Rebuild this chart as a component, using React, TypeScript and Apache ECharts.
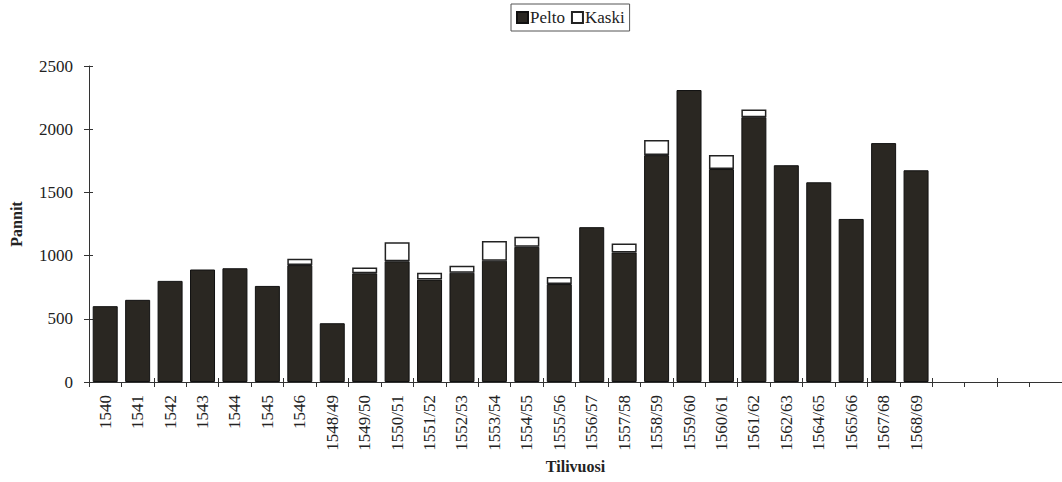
import React, { useEffect, useRef } from "react";
import * as echarts from "echarts";

const categories = [
  "1540", "1541", "1542", "1543", "1544", "1545", "1546", "1548/49", "1549/50", "1550/51",
  "1551/52", "1552/53", "1553/54", "1554/55", "1555/56", "1556/57", "1557/58", "1558/59", "1559/60", "1560/61",
  "1561/62", "1562/63", "1564/65", "1565/66", "1567/68", "1568/69", "", "", "", "",
];
const pelto = [600, 650, 800, 890, 900, 760, 925, 465, 860, 955, 810, 865, 960, 1070, 775, 1225, 1025, 1795, 2310, 1685, 2095, 1715, 1580, 1290, 1890, 1675];
const kaski = [0, 0, 0, 0, 0, 0, 50, 0, 45, 150, 55, 55, 155, 80, 55, 0, 70, 120, 0, 110, 60, 0, 0, 0, 0, 0];
const yTicks = { min: 0, max: 2500, interval: 500 };

const FONT = "'Liberation Serif', 'Times New Roman', serif";

export default function App() {
  const ref = useRef<HTMLDivElement>(null);
  useEffect(() => {
    if (!ref.current) return;
    const chart = echarts.init(ref.current, null, { renderer: "svg" });
    const axisLine = { show: true, lineStyle: { color: "#333", width: 1 } };
    chart.setOption({
      animation: false,
      backgroundColor: "#fff",
      textStyle: { fontFamily: FONT, color: "#222" },
      legend: {
        top: 4,
        left: 511,
        data: ["Pelto", "Kaski"],
        icon: "rect",
        itemWidth: 11,
        itemHeight: 11,
        itemGap: 6,
        padding: [5, 5, 5, 5],
        borderColor: "#555",
        borderWidth: 1,
        textStyle: { fontFamily: FONT, fontSize: 17, color: "#222", padding: [0, 0, 0, -3] },
      },
      grid: { left: 85, top: 66, bottom: 100, width: 983 },
      xAxis: [
        {
          type: "category",
          data: categories,
          boundaryGap: true,
          axisLine,
          axisTick: { show: true, inside: false, length: 5, lineStyle: { color: "#333" } },
          axisLabel: { rotate: 90, fontSize: 17, color: "#222", margin: 13, fontFamily: FONT, interval: 0 },
          name: "Tilivuosi",
          nameLocation: "middle",
          nameGap: 53,
          nameTextStyle: { fontFamily: FONT, fontSize: 16, fontWeight: "bold", color: "#222" },
          splitLine: { show: false },
        },
        {
          type: "category",
          data: categories,
          position: "bottom",
          boundaryGap: true,
          axisLine: { show: false },
          axisTick: { show: true, inside: true, length: 4, lineStyle: { color: "#333" } },
          axisLabel: { show: false },
          splitLine: { show: false },
        },
      ],
      yAxis: [
        {
          type: "value",
          min: yTicks.min,
          max: yTicks.max,
          interval: yTicks.interval,
          axisLine,
          axisTick: { show: true, inside: false, length: 5, lineStyle: { color: "#333" } },
          axisLabel: { fontSize: 17, color: "#222", margin: 16, fontFamily: FONT, formatter: (v: number) => String(v) },
          splitLine: { show: false },
          name: "Pannit",
          nameLocation: "middle",
          nameGap: 65,
          nameRotate: 90,
          nameTextStyle: { fontFamily: FONT, fontSize: 16, fontWeight: "bold", color: "#222" },
        },
        {
          type: "value",
          min: yTicks.min,
          max: yTicks.max,
          interval: yTicks.interval,
          position: "left",
          axisLine: { show: false },
          axisTick: { show: true, inside: true, length: 4, lineStyle: { color: "#333" } },
          axisLabel: { show: false },
          splitLine: { show: false },
        },
      ],
      series: [
        {
          name: "Pelto",
          type: "bar",
          stack: "t",
          barWidth: 25,
          data: pelto,
          itemStyle: { color: "#2a2722", borderColor: "#111", borderWidth: 1 },
        },
        {
          name: "Kaski",
          type: "bar",
          stack: "t",
          barWidth: 25,
          data: kaski.map((v) => (v > 0 ? v : null)),
          itemStyle: { color: "#fff", borderColor: "#222", borderWidth: 1.5 },
        },
      ],
    });
    return () => chart.dispose();
  }, []);
  return (
    <div
      ref={ref}
      style={{ position: "absolute", left: 0, top: 0, width: 1062, height: 482 }}
    />
  );
}
